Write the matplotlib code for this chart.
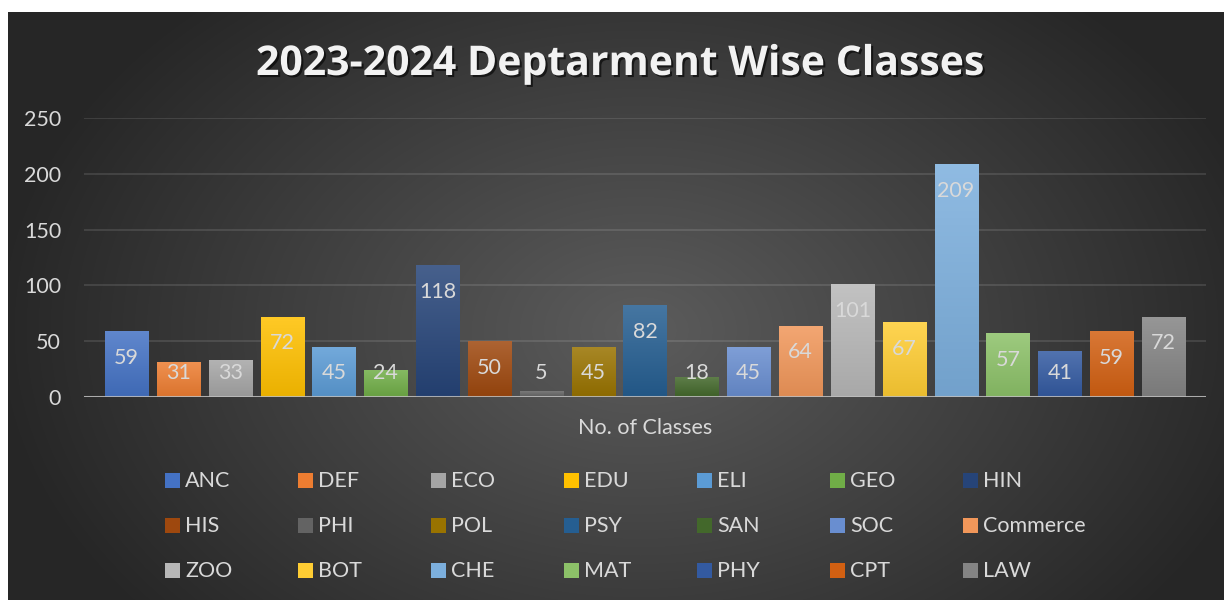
import numpy as np
import matplotlib.pyplot as plt
from matplotlib.patches import Rectangle
from matplotlib import patheffects as pe
from matplotlib.colors import to_rgb

plt.rcParams['font.family'] = ['Lato', 'DejaVu Sans']

departments = ['ANC', 'DEF', 'ECO', 'EDU', 'ELI', 'GEO', 'HIN',
               'HIS', 'PHI', 'POL', 'PSY', 'SAN', 'SOC', 'Commerce',
               'ZOO', 'BOT', 'CHE', 'MAT', 'PHY', 'CPT', 'LAW']
classes = [59, 31, 33, 72, 45, 24, 118,
           50, 5, 45, 82, 18, 45, 64,
           101, 67, 209, 57, 41, 59, 72]
colors = ['#4472C4', '#ED7D31', '#A5A5A5', '#FFC000', '#5B9BD5', '#70AD47', '#264478',
          '#9E480E', '#636363', '#997300', '#255E91', '#43682B', '#698ED0', '#F1975A',
          '#B7B7B7', '#FFCD33', '#7CAFDD', '#8CC168', '#335AA1', '#D26012', '#848484']

W, H = 1224, 600
fig = plt.figure(figsize=(W / 100, H / 100), dpi=100)
fig.patch.set_facecolor('white')


def px(x, y):
    return x / W, 1 - y / H


# dark radial background of the chart area
bg = fig.add_axes([8 / W, 0, (W - 8) / W, (H - 12) / H])
yy, xx = np.mgrid[12:600, 8:1224]
r = np.sqrt(((xx - 640) / 650.0) ** 2 + ((yy - 330) / 450.0) ** 2)
t = 1 - np.clip(r, 0, 1)
dark, light = 38 / 255, 92 / 255
shade = dark + (light - dark) * t
bg.imshow(np.dstack([shade] * 3), aspect='auto', interpolation='bilinear')
bg.set_axis_off()

# main axes
x0, x1, ytop, ybase = 84, 1206, 118, 397
ax = fig.add_axes([x0 / W, 1 - ybase / H, (x1 - x0) / W, (ybase - ytop) / H])
ax.patch.set_alpha(0)
xs = np.arange(len(classes))
bars = ax.bar(xs, classes, width=0.83, color='none', zorder=3)


def mix(c, other, f):
    c = np.array(to_rgb(c))
    return c * (1 - f) + np.array(other) * f


for b, c in zip(bars, colors):
    top = mix(c, (1, 1, 1), 0.15)
    bot = mix(c, (0, 0, 0), 0.08)
    grad = np.linspace(0, 1, 64)[:, None, None] * (bot - top) + top
    im = ax.imshow(grad, aspect='auto', origin='upper', zorder=3,
                   extent=(b.get_x(), b.get_x() + b.get_width(), 0, b.get_height()))
    im.set_clip_path(b)

for x, v in zip(xs, classes):
    ax.text(x, max(v - 24, 21.5), str(v), ha='center', va='center',
            color='#d9d9d9', fontsize=15.5, zorder=5)

ax.set_xlim(-0.82, len(classes) - 1 + 0.82)
ax.set_ylim(0, 250)
ax.set_yticks(range(0, 251, 50))
ax.set_xticks([])
ax.tick_params(axis='y', length=0, pad=16.5, labelsize=15.5, labelcolor='#d9d9d9')
ax.grid(axis='y', color='white', alpha=0.12, lw=1.3, zorder=0)
for s in ax.spines.values():
    s.set_visible(False)
ax.axhline(0, color='#bfbfbf', lw=2.2, alpha=0.85, zorder=4)

fig.text(*px(645, 428), 'No. of Classes', ha='center', va='center',
         color='#d9d9d9', fontsize=15.5)

# title with soft shadow
fig.text(*px(621, 75), '2023-2024 Deptarment Wise Classes', ha='center', va='baseline',
         color='#f2f2f2', fontsize=29.5, fontweight='bold', family=['Open Sans', 'DejaVu Sans'],
         path_effects=[pe.SimplePatchShadow(offset=(1.5, -1.5), shadow_rgbFace='black', alpha=0.6),
                       pe.Normal()])

# legend: 7 columns x 3 rows
for i, (name, c) in enumerate(zip(departments, colors)):
    col, row = i % 7, i // 7
    lx, ly = 165 + col * 133, 481 + row * 45
    fig.add_artist(Rectangle(px(lx, ly + 7), 15 / W, 15 / H, transform=fig.transFigure,
                             facecolor=c, edgecolor='none'))
    fig.text(*px(lx + 20, ly), name, ha='left', va='center', color='#d9d9d9', fontsize=15.5)

fig.savefig('out.png', dpi=100)
